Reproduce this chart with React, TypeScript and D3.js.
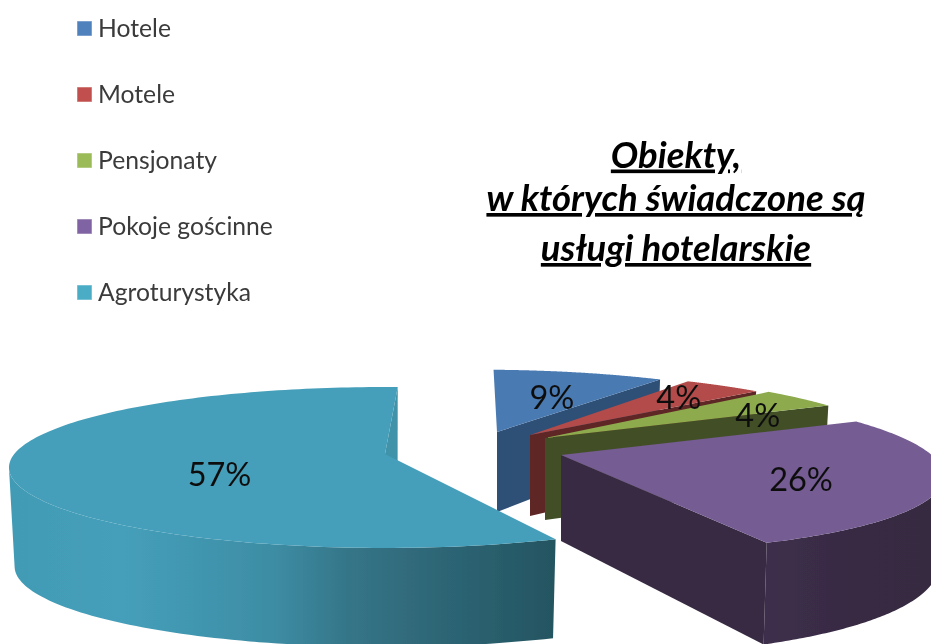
import React from "react";
import * as d3 from "d3";

const categories = ["Hotele", "Motele", "Pensjonaty", "Pokoje gościnne", "Agroturystyka"];
const shares = [9, 4, 4, 26, 57];
const labels = ["9%", "4%", "4%", "26%", "57%"];
const topColors = ["#4a7ab1", "#b24c48", "#8dab4d", "#755b93", "#459fba"];
const sideColors = ["#2f4f76", "#5f2626", "#424f26", "#372a42", "#3f93a8"];
const legendColors = ["#4f81bd", "#c0504d", "#9bbb59", "#8064a2", "#4bacc6"];
const titleLines = ["Obiekty,", "w których świadczone są", "usługi hotelarskie"];

// layout of the exploded 3D slices (apex, scale, shear, depth)
const apexX = [497, 530, 545, 561, 385];
const apexY = [432, 435, 438, 455, 454];
const scaleX = [0.95, 0.96, 0.96, 1, 1];
const scaleY = [0.93, 0.95, 1, 1.03, 1];
const shear = [0.25, 0.37, 0.4, 0.4, 0];
const depth = [80, 81, 82, 86, 99];
const depthGrow = [1, 1, 1, 1, 0];
const labelFrac = [0.6, 0.75, 0.85, 0.63, 0.44];
const labelDx = [6, 4, -4, 0, 0];
const labelDy = [1, -1, 11, 6, 14];

const W = 931, H = 644;
const RX = 370.7, RY = 78.2, K = 0.1677, BOTTOM_SCALE = 0.985;
const FONT = "Lato, 'Open Sans', sans-serif";

type P = [number, number];

function topPoint(i: number, t: number): P {
  const px = Math.sin(t), py = -Math.cos(t), w = 1 - K * py;
  const xs = (RX * px) / w, ys = (RY * py) / w;
  return [apexX[i] + scaleX[i] * xs + shear[i] * scaleY[i] * ys, apexY[i] + scaleY[i] * ys];
}
function botPoint(i: number, t: number): P {
  const p = topPoint(i, t);
  const w = 1 + K * Math.cos(t);
  return [apexX[i] + (p[0] - apexX[i]) * BOTTOM_SCALE, p[1] + depth[i] / (depthGrow[i] ? w : 1)];
}
const apexTop = (i: number): P => [apexX[i], apexY[i]];
const apexBot = (i: number): P => [apexX[i], apexY[i] + depth[i]];

const line = d3.line<P>().x((d) => d[0]).y((d) => d[1]);

export default function App() {
  const pie = d3.pie<number>().sort(null).startAngle((2.3 * Math.PI) / 180).endAngle((362.3 * Math.PI) / 180);
  const arcs = pie(shares);
  const legendY = d3.scalePoint<string>().domain(categories).range([28, 292]);
  const tealGrad = [
    [0, "#429bb5"], [0.2, "#459fba"], [0.48, "#3d8da4"], [0.62, "#357588"], [0.8, "#2d6575"], [1, "#245561"],
  ] as [number, string][];

  return (
    <div style={{ position: "fixed", left: 0, top: 0, width: W, height: H, overflow: "hidden", background: "#fff" }}>
      <svg width={W} height={H} viewBox={`0 0 ${W} ${H}`} style={{ display: "block" }}>
        <defs>
          <linearGradient id="tealSide" gradientUnits="userSpaceOnUse" x1={14} x2={553} y1={0} y2={0}>
            {tealGrad.map(([o, c]) => <stop key={o} offset={o} stopColor={c} />)}
          </linearGradient>
          <linearGradient id="purpleSide" gradientUnits="userSpaceOnUse" x1={760} x2={931} y1={0} y2={0}>
            <stop offset={0} stopColor="#3e2f4c" />
            <stop offset={0.6} stopColor="#372a42" />
            <stop offset={1} stopColor="#362941" />
          </linearGradient>
          <filter id="soft" x="-2%" y="-2%" width="104%" height="104%">
            <feGaussianBlur stdDeviation={0.45} />
          </filter>
        </defs>
        <g filter="url(#soft)">
          {arcs.map((a, i) => {
            const ts = d3.range(0, 161).map((k) => a.startAngle + ((a.endAngle - a.startAngle) * k) / 160);
            const tops = ts.map((t) => topPoint(i, t));
            // only the part of the rim between the silhouette points that faces the viewer
            const front = ts.filter((t) => Math.cos(t) <= -K);
            const frontTops = front.map((t) => topPoint(i, t));
            const frontBots = front.map((t) => botPoint(i, t));
            const arcFill = i === 4 ? "url(#tealSide)" : i === 3 ? "url(#purpleSide)" : sideColors[i];
            return (
              <g key={categories[i]}>
                <path d={line([apexTop(i), tops[160], botPoint(i, a.endAngle), apexBot(i)]) + "Z"} fill={sideColors[i]} />
                {front.length > 1 && (
                  <path d={line([...frontTops, ...frontBots.slice().reverse()]) + "Z"} fill={arcFill} />
                )}
                <path d={line([apexTop(i), ...tops]) + "Z"} fill={topColors[i]} />
              </g>
            );
          })}
          {arcs.map((a, i) => {
            const mid = (a.startAngle + a.endAngle) / 2;
            const p = topPoint(i, mid);
            const x = apexX[i] + (p[0] - apexX[i]) * labelFrac[i] + labelDx[i];
            const y = apexY[i] + (p[1] - apexY[i]) * labelFrac[i] + labelDy[i];
            return (
              <text key={i} x={x} y={y} dy="0.36em" textAnchor="middle" fontFamily={FONT} fontSize={32.5} fill="#111">
                {labels[i]}
              </text>
            );
          })}
          {categories.map((c, i) => {
            const y = legendY(c) as number;
            return (
              <g key={c}>
                <rect x={77} y={y - 7} width={15} height={15} fill={legendColors[i]} stroke="#ffffff" strokeOpacity={0.5} />
                <text x={98} y={y} dy="0.35em" fontFamily={FONT} fontSize={24.7} fill="#3a3a3a">{c}</text>
              </g>
            );
          })}
          {titleLines.map((t, i) => (
            <text key={t} x={676} y={[167.5, 211, 261][i]} textAnchor="middle" fontFamily={FONT} fontSize={36.5}
              fontWeight={700} fontStyle="italic" textDecoration="underline" fill="#000">{t}</text>
          ))}
        </g>
      </svg>
    </div>
  );
}
